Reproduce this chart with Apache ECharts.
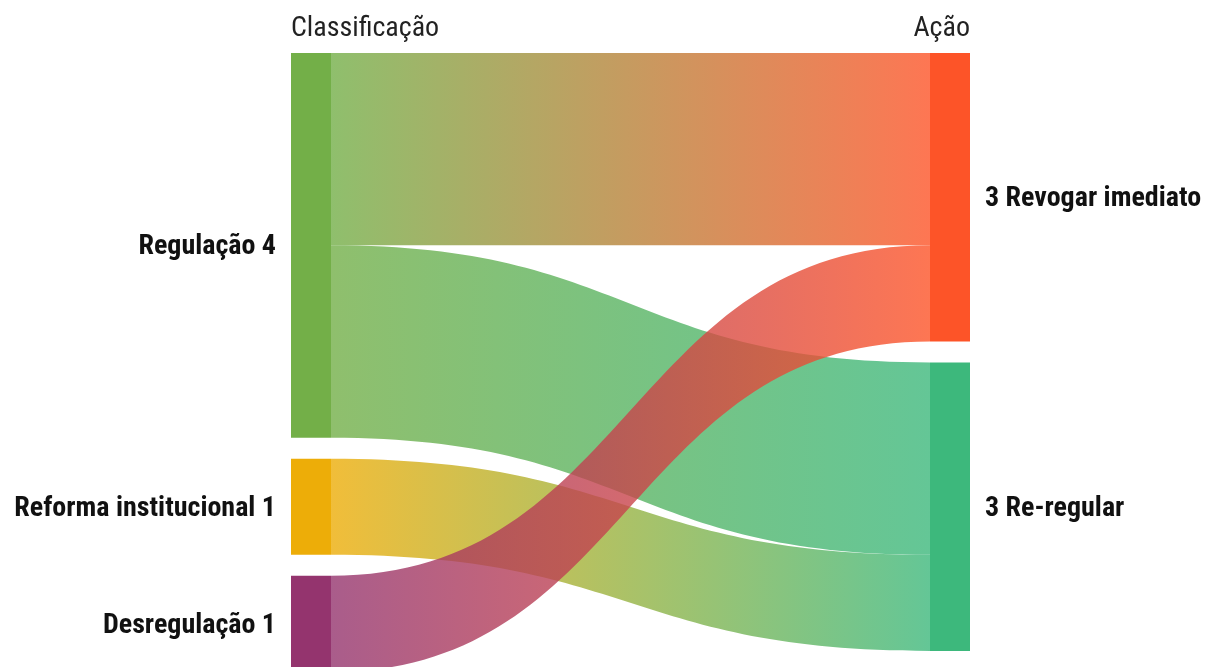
<!DOCTYPE html>
<html><head><meta charset="utf-8">
<script src="https://cdn.jsdelivr.net/npm/echarts@6/dist/echarts.min.js"></script>
<style>html,body{margin:0;padding:0;background:#fff}#c{width:1207px;height:667px}</style>
</head><body><div id="c"></div>
<script>
const leftNodes = ['Regulação', 'Reforma institucional', 'Desregulação'];
const rightNodes = ['Revogar imediato', 'Re-regular'];
const nodeColors = {
  'Regulação': '#73AF48',
  'Reforma institucional': '#EDAD08',
  'Desregulação': '#94346E',
  'Revogar imediato': '#FD5428',
  'Re-regular': '#3DB87C'
};
const linkSources = ['Regulação', 'Regulação', 'Reforma institucional', 'Desregulação'];
const linkTargets = ['Revogar imediato', 'Re-regular', 'Re-regular', 'Revogar imediato'];
const linkValues = [2, 2, 1, 1];
const headers = ['Classificação', 'Ação'];

const FONT = '"Roboto Condensed", "Liberation Sans Narrow", "DejaVu Sans Condensed", Roboto, sans-serif';

const nodes = [];
leftNodes.forEach(n => nodes.push({
  name: n, depth: 0, itemStyle: { color: nodeColors[n] },
  label: { position: 'left', formatter: p => p.name + ' ' + p.value }
}));
rightNodes.forEach(n => nodes.push({
  name: n, depth: 1, itemStyle: { color: nodeColors[n] },
  label: { position: 'right', formatter: p => p.value + ' ' + p.name }
}));
const links = linkSources.map((s, i) => ({ source: s, target: linkTargets[i], value: linkValues[i] }));

const chart = echarts.init(document.getElementById('c'), null, { renderer: 'canvas' });
chart.setOption({
  backgroundColor: '#fff',
  animation: false,
  graphic: [
    { type: 'text', left: 291, top: 15, style: { text: headers[0], font: '400 28px ' + FONT, fill: '#222' } },
    { type: 'text', right: 1207 - 970, top: 15, style: { text: headers[1], font: '400 28px ' + FONT, fill: '#222' } }
  ],
  series: [{
    type: 'sankey',
    left: 291, top: 53, width: 679, height: 619,
    nodeWidth: 40, nodeGap: 21,
    layoutIterations: 0,
    draggable: false,
    emphasis: { disabled: true },
    data: nodes,
    links: links,
    itemStyle: { borderWidth: 0 },
    lineStyle: { color: 'gradient', opacity: 0.8, curveness: 0.5 },
    label: { color: '#111', fontSize: 28, fontWeight: 'bold', fontFamily: FONT, distance: 15, offset: [0, 2] }
  }]
});
</script></body></html>
